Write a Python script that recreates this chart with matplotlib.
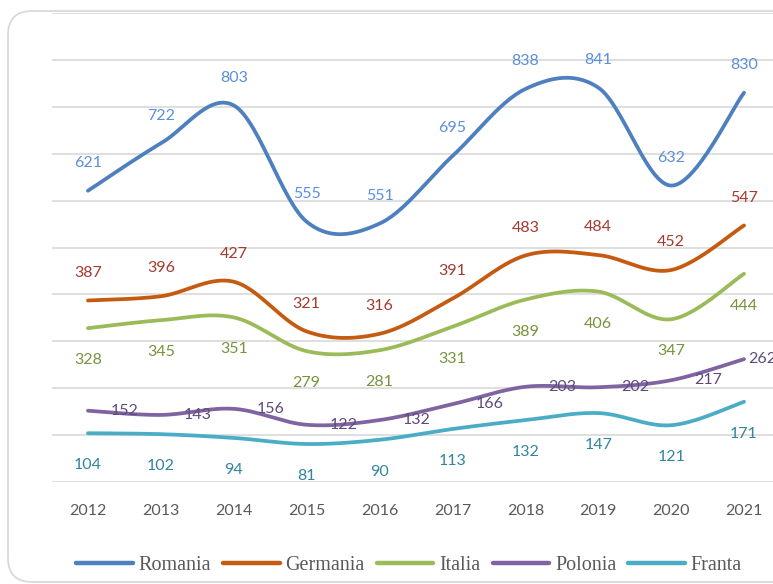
import numpy as np
import matplotlib
matplotlib.use("Agg")
import matplotlib.pyplot as plt
from matplotlib.patches import FancyBboxPatch
from matplotlib.lines import Line2D

years = ["2012", "2013", "2014", "2015", "2016", "2017", "2018", "2019", "2020", "2021"]
romania = [621, 722, 803, 555, 551, 695, 838, 841, 632, 830]
germania = [387, 396, 427, 321, 316, 391, 483, 484, 452, 547]
italia = [328, 345, 351, 279, 281, 331, 389, 406, 347, 444]
polonia = [152, 143, 156, 122, 132, 166, 203, 202, 217, 262]
franta = [104, 102, 94, 81, 90, 113, 132, 147, 121, 171]

W, H = 773, 584
fig = plt.figure(figsize=(W / 100, H / 100), dpi=100)

# background axes in pixel coordinates for the rounded chart frame
bg = fig.add_axes([0, 0, 1, 1], zorder=-5)
bg.set_xlim(0, W)
bg.set_ylim(H, 0)
bg.axis("off")
bg.add_patch(FancyBboxPatch((8, 11), 800, 571,
                            boxstyle="round,pad=0,rounding_size=24",
                            facecolor="white", edgecolor="#D9D9D9", linewidth=1.3))

left = 51.5 / W
right = 780.5 / W
bottom = (H - 482) / H
top = (H - 13) / H
ax = fig.add_axes([left, bottom, right - left, top - bottom])
ax.set_facecolor("none")
ax.set_xlim(-0.5, 9.5)
ax.set_ylim(0, 1000)
ax.set_yticks(np.arange(0, 1001, 100))
ax.set_yticklabels([])
ax.tick_params(axis="y", length=0)
ax.grid(axis="y", color="#D9D9D9", linewidth=1.2)
ax.set_axisbelow(True)
for s in ax.spines.values():
    s.set_visible(False)
x = np.arange(len(years))
ax.set_xticks(x)
ax.set_xticklabels(years, fontsize=11.5, color="#595959", family=["Lato", "DejaVu Sans"])
ax.tick_params(axis="x", length=0, pad=16)


def smooth(xs, ys, n=30):
    xs = np.asarray(xs, float)
    ys = np.asarray(ys, float)
    P = np.column_stack([xs, ys])
    Pext = np.vstack([P[0], P, P[-1]])
    out = []
    for i in range(len(P) - 1):
        p0, p1, p2, p3 = Pext[i], Pext[i + 1], Pext[i + 2], Pext[i + 3]
        c1 = p1 + (p2 - p0) / 6.0
        c2 = p2 - (p3 - p1) / 6.0
        t = np.linspace(0, 1, n)[:, None]
        seg = ((1 - t) ** 3) * p1 + 3 * ((1 - t) ** 2) * t * c1 + 3 * (1 - t) * t ** 2 * c2 + t ** 3 * p2
        if i > 0:
            seg = seg[1:]
        out.append(seg)
    out = np.vstack(out)
    return out[:, 0], out[:, 1]


series = [
    ("Romania", romania, "#4E7FBF", "#5B8FD8", (0, 20), "center"),
    ("Germania", germania, "#C55A11", "#A33A30", (0, 20), "center"),
    ("Italia", italia, "#9BBB59", "#77933C", (0, -23), "center"),
    ("Polonia", polonia, "#8064A2", "#5F4A7C", (26.5, 0), "center"),
    ("Franta", franta, "#4BACC6", "#31859C", (0, -23), "center"),
]

handles = []
for name, vals, lc, tc, off, ha in series:
    sx, sy = smooth(x, vals)
    ax.plot(sx, sy, color=lc, linewidth=2.7, solid_capstyle="round", zorder=3)
    handles.append(Line2D([0], [0], color=lc, linewidth=3.2, solid_capstyle="round"))
    for i, (xi, v) in enumerate(zip(x, vals)):
        o, h = off, ha
        if name == "Polonia" and i == len(vals) - 1:
            o, h = (3, 0), "left"   # last label pushed back inside, as in the reference
        ax.annotate(str(v), (xi, v), xytext=o, textcoords="offset points",
                    ha=h, va="center", fontsize=11.5, color=tc,
                    family=["Lato", "DejaVu Sans"], zorder=4, annotation_clip=False)

fig.legend(handles, [s[0] for s in series], loc="center",
           bbox_to_anchor=(409 / W, (H - 565) / H), ncol=5, frameon=False,
           prop={"family": ["Liberation Serif", "DejaVu Serif"], "size": 14.5},
           labelcolor="#595959", handlelength=2.8, handletextpad=0.3,
           columnspacing=0.6)

fig.savefig("out.png", dpi=100)
